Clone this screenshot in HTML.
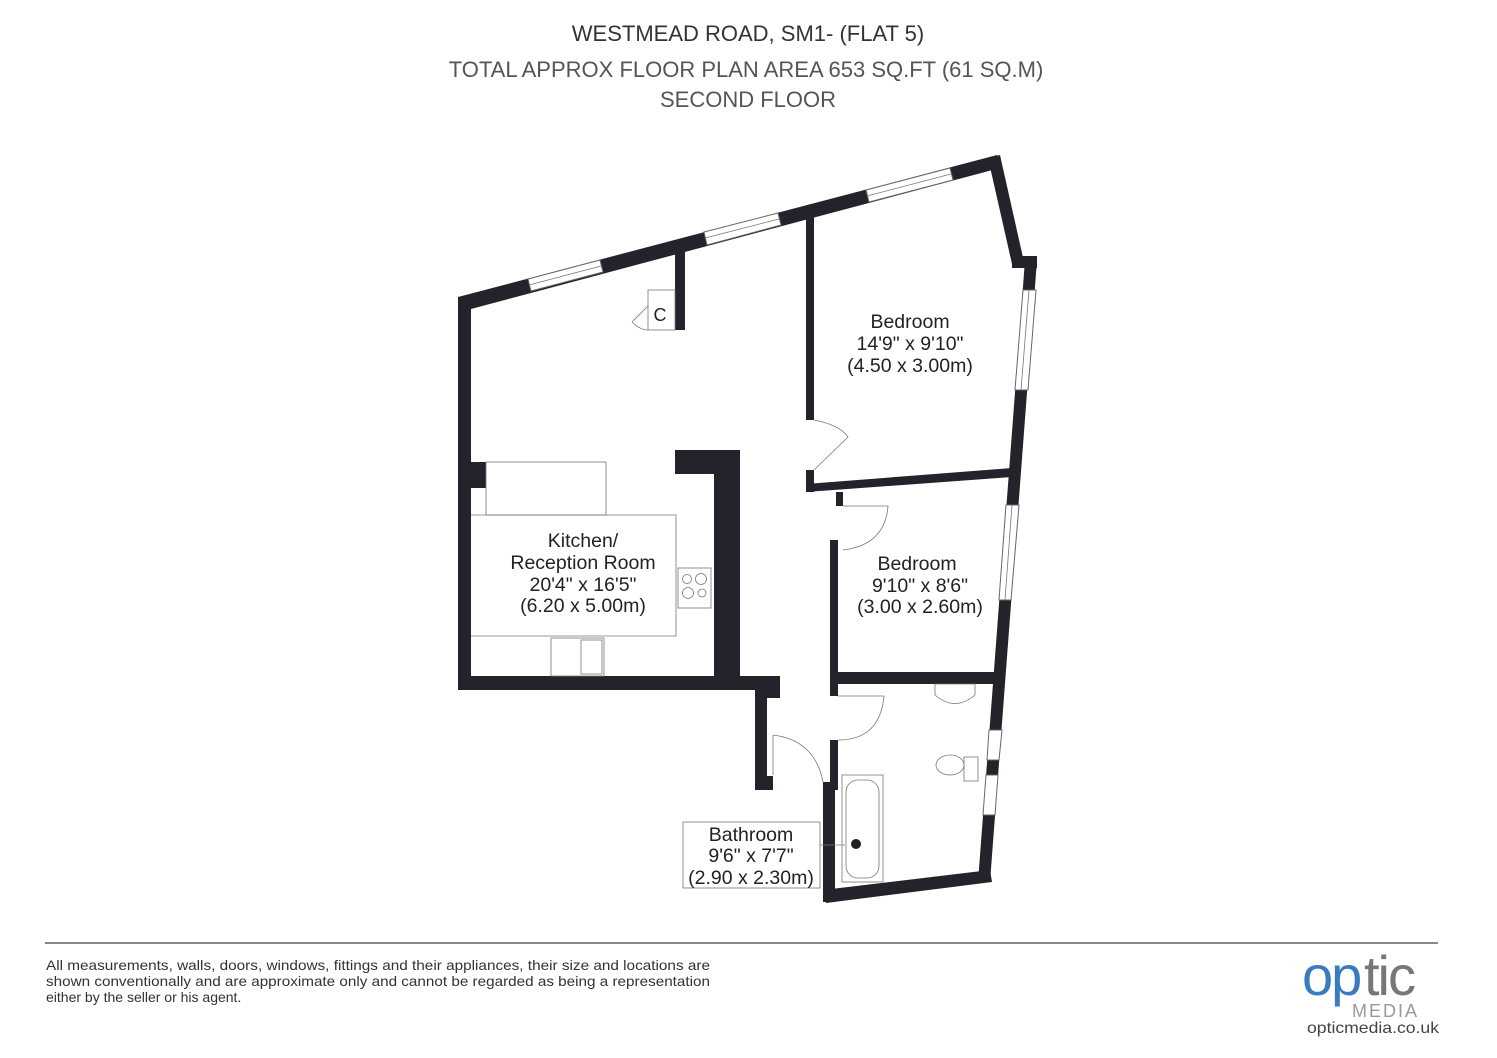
<!DOCTYPE html>
<html><head><meta charset="utf-8"><style>
body{margin:0;background:#fff;}
svg{display:block;font-family:"Liberation Sans",Arial,sans-serif;}
</style></head><body>
<svg width="1497" height="1058" viewBox="0 0 1497 1058">
<g text-anchor="middle" font-size="22" fill="#555">
<text x="748" y="41" fill="#333">WESTMEAD ROAD, SM1- (FLAT 5)</text>
<text x="746" y="77">TOTAL APPROX FLOOR PLAN AREA 653 SQ.FT (61 SQ.M)</text>
<text x="748" y="107">SECOND FLOOR</text>
</g>
<g fill="#23232b" stroke="none">
<polygon points="458,297 997,155 1000,168 471,309"/>
<polygon points="988,158 1000,155 1024,262 1012,264"/>
<polygon points="1012,256 1037,256 1037,268 1012,268"/>
<polygon points="1025,260 1037,260 990,882 978,882"/>
<polygon points="823,890 990,870 992,882 826,903"/>
<rect x="458" y="297" width="13" height="393"/>
<rect x="471" y="462" width="15" height="26"/>
<rect x="675" y="248" width="10" height="82"/>
<polygon points="806,218 814,216 814,420 806,420"/>
<rect x="806" y="470" width="8" height="22"/>
<polygon points="806,484 1012,468 1012,477 806,492"/>
<rect x="675" y="450" width="65" height="24"/>
<rect x="714" y="474" width="26" height="216"/>
<rect x="458" y="676" width="322" height="14"/>
<rect x="755" y="676" width="25" height="22"/>
<rect x="755" y="698" width="12" height="92"/>
<rect x="755" y="776" width="18" height="14"/>
<rect x="836" y="492" width="7" height="14"/>
<rect x="830" y="540" width="8" height="140"/>
<rect x="830" y="672" width="175" height="12"/>
<rect x="830" y="684" width="8" height="12"/>
<rect x="830" y="740" width="8" height="50"/>
<rect x="823" y="782" width="12" height="120"/>
</g>
<g stroke="#666" stroke-width="1" fill="#fff">
<polygon points="528,279 600,260 603,272 531,291"/>
<polygon points="704,232 778,213 781,225 707,245"/>
<polygon points="866,190 950,168 953,180 869,202"/>
<polygon points="1023,290 1036,290 1028,390 1015,390"/>
<polygon points="1006,505 1019,505 1011,600 999,600"/>
<polygon points="989,730 1002,730 999,760 987,760"/>
<polygon points="986,775 998,775 995,815 983,815"/>
</g>
<g stroke="#777" stroke-width="0.8" fill="none">
<line x1="529" y1="285" x2="601" y2="266"/>
<line x1="705" y1="238" x2="779" y2="219"/>
<line x1="867" y1="196" x2="951" y2="174"/>
<line x1="1029" y1="290" x2="1021" y2="390"/>
<line x1="1012" y1="505" x2="1005" y2="600"/>
<rect x="648" y="290" width="27" height="40"/>
<path d="M648,306 L632,322 M632,322 Q640,330 648,330"/>
<rect x="486" y="462" width="120" height="53"/>
<path d="M471,515 H676 V636 H471"/>
<rect x="678" y="568" width="33" height="40"/>
<circle cx="687" cy="579" r="4.5"/><circle cx="701" cy="579" r="5.5"/>
<circle cx="688" cy="593" r="5.5"/><circle cx="702" cy="593" r="4"/>
<rect x="551" y="638" width="53" height="38"/>
<rect x="581" y="640" width="21" height="34"/>
<path d="M814,420 Q840,425 848,437 L814,470"/>
<path d="M843,506 H888 Q885,545 843,550"/>
<path d="M838,696 H884 Q880,740 838,740"/>
<path d="M773,735 V775 M773,735 Q815,740 823,782"/>
<rect x="842" y="775" width="41" height="107"/>
<rect x="846" y="780" width="33" height="98" rx="12"/>
<rect x="683" y="822" width="137" height="66"/>
<line x1="820" y1="845" x2="845" y2="845"/>
<path d="M935,684 H975 V695 Q955,712 935,695 Z"/>
<ellipse cx="950" cy="765" rx="14" ry="10"/>
<rect x="964" y="757" width="14" height="24"/>
</g>
<circle cx="856" cy="844" r="5" fill="#222"/>
<text x="660" y="321" font-size="18" text-anchor="middle" fill="#222">C</text>
<g text-anchor="middle" font-size="19.5" fill="#222">
<text x="910" y="328">Bedroom</text>
<text x="910" y="350">14'9" x 9'10"</text>
<text x="910" y="372">(4.50 x 3.00m)</text>
<text x="917" y="570">Bedroom</text>
<text x="920" y="592">9'10" x 8'6"</text>
<text x="920" y="613">(3.00 x 2.60m)</text>
<text x="583" y="547">Kitchen/</text>
<text x="583" y="569">Reception Room</text>
<text x="583" y="591">20'4" x 16'5"</text>
<text x="583" y="612">(6.20 x 5.00m)</text>
<text x="751" y="841">Bathroom</text>
<text x="751" y="862">9'6" x 7'7"</text>
<text x="751" y="884">(2.90 x 2.30m)</text>
</g>
<line x1="45" y1="943" x2="1438" y2="943" stroke="#888" stroke-width="2"/>
<g font-size="14" fill="#333">
<text x="46" y="970" textLength="664" lengthAdjust="spacingAndGlyphs">All measurements, walls, doors, windows, fittings and their appliances, their size and locations are</text>
<text x="46" y="986" textLength="664" lengthAdjust="spacingAndGlyphs">shown conventionally and are approximate only and cannot be regarded as being a representation</text>
<text x="46" y="1002">either by the seller or his agent.</text>
</g>
<text x="1302" y="995" font-size="56" fill="#3a7bbf" letter-spacing="-2">op</text>
<text x="1364" y="995" font-size="56" fill="#777" letter-spacing="-2">tic</text>
<text x="1352" y="1017" font-size="18" fill="#999" letter-spacing="2">MEDIA</text>
<text x="1307" y="1033" font-size="16" fill="#444" textLength="132" lengthAdjust="spacingAndGlyphs">opticmedia.co.uk</text>
</svg>
</body></html>
